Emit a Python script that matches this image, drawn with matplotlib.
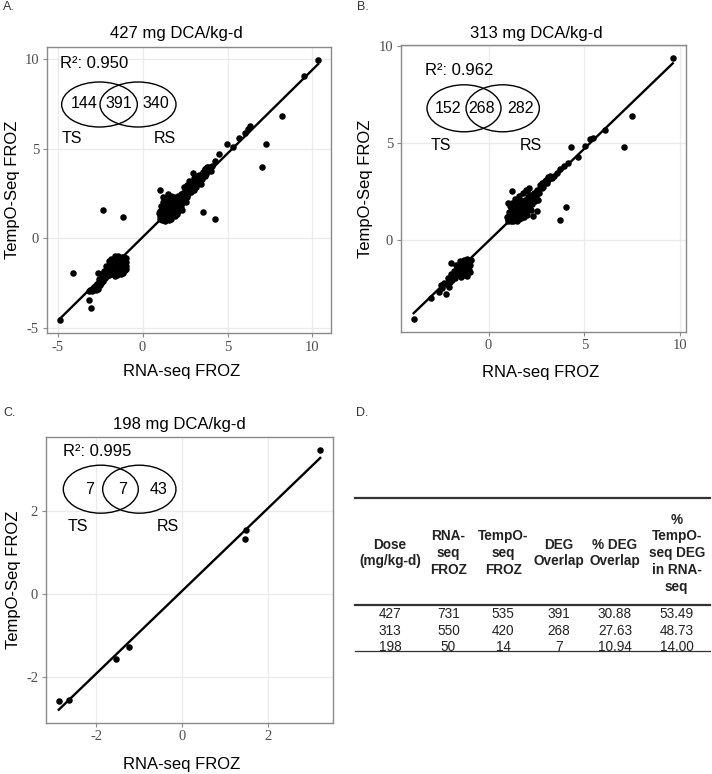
import matplotlib
matplotlib.use('Agg')
import matplotlib.pyplot as plt
from matplotlib.patches import Ellipse
from matplotlib.lines import Line2D
import numpy as np

plt.rcParams['font.family'] = ['Liberation Sans', 'DejaVu Sans']
plt.rcParams['axes.unicode_minus'] = False

# ---- data ----
# panel A: 427 mg DCA/kg-d
a_x = [1.05, 1.10, 1.15, 1.20, 1.25, 1.30, 1.35, 1.40, 1.45, 1.50, 1.55, 1.60, 1.65, 1.70, 1.75,
       1.80, 1.85, 1.90, 1.95, 2.00, 2.05, 2.10, 2.15, 2.20, 2.25, 2.30, 2.35, 2.40, 2.45, 2.50,
       1.10, 1.20, 1.35, 1.50, 1.70, 1.25, 1.45, 1.60, 1.85, 1.10, 2.00, 2.35, 1.75, 1.55, 1.30,
       2.60, 2.65, 2.70, 2.80, 2.85, 2.90, 2.95, 3.00, 3.05, 3.10, 3.20, 3.25, 3.30, 3.40, 3.50,
       3.55, 3.60, 3.70, 3.75, 3.85, 3.95, 4.10, 4.25, 4.47, 2.95, 2.60, 3.30, 3.80, 2.75, 2.45,
       1.01, 1.21, 0.95, 2.55, 3.00, 3.45, 4.00, 3.15, 3.90, 3.65,
       1.15, 1.35, 1.55, 1.75, 1.95, 2.15, 1.40, 1.60, 1.80, 2.00, 2.20, 2.40, 1.20, 1.45, 1.65,
       1.85, 2.05, 2.25, 1.30, 1.50, 1.70, 1.90, 2.10, 2.30, 1.05, 1.25, 1.45, 1.65, 1.90, 2.10,
       2.50, 2.70, 2.55, 2.90, 3.10, 3.35, 3.50, 3.65, 1.00, 1.35,
       3.55, 4.28, -2.30, -1.15,
       4.96, 5.35, 5.68, 6.00, 6.23, 6.33, 7.25, 7.01, 8.18, 9.51, 10.33,
       -1.00, -1.05, -1.10, -1.15, -1.20, -1.25, -1.30, -1.35, -1.40, -1.45, -1.50, -1.55, -1.60,
       -1.65, -1.70, -1.75, -1.80, -1.85, -1.90, -1.95, -2.00, -2.05, -2.10, -2.15, -2.20, -2.25,
       -2.30, -2.35, -2.40, -2.45, -2.55, -2.60, -2.70, -2.75, -2.85, -2.95, -3.10, -1.05, -1.15,
       -1.25, -1.50, -1.40, -1.60, -1.00, -1.10, -1.65, -1.95, -2.65, -2.27, -2.46, -2.65, -3.14,
       -1.00, -1.10, -1.20, -1.30, -1.40, -1.50, -1.60, -1.70, -1.80, -1.20, -1.35, -1.55, -1.75,
       -1.95, -2.10, -1.25, -1.45, -1.05, -1.15, -1.65, -1.85, -2.30, -2.50, -1.30, -1.00,
       -4.12, -3.14, -3.05, -4.88]
a_y = [1.10, 1.35, 1.20, 1.55, 1.05, 1.40, 1.75, 1.15, 1.60, 1.30, 1.90, 1.45, 1.10, 1.70, 2.05,
       1.50, 1.85, 1.25, 2.20, 1.65, 1.95, 2.35, 1.80, 2.10, 2.45, 1.95, 2.25, 2.55, 2.15, 2.40,
       1.80, 2.00, 2.20, 2.45, 2.35, 1.65, 1.95, 2.10, 2.30, 1.55, 1.35, 1.60, 1.25, 1.05, 1.00,
       2.30, 2.70, 2.50, 2.90, 2.60, 3.10, 2.80, 3.35, 3.00, 3.25, 3.05, 3.45, 3.20, 3.50, 3.30,
       3.70, 3.55, 3.85, 3.60, 3.75, 3.90, 4.05, 4.30, 4.67, 3.65, 3.00, 3.55, 3.95, 3.20, 2.85,
       2.67, 2.30, 1.40, 2.05, 2.70, 3.05, 3.75, 2.85, 4.00, 3.85,
       1.00, 1.50, 1.65, 1.80, 2.00, 2.20, 1.30, 1.55, 1.70, 1.85, 2.00, 2.20, 1.30, 1.45, 1.35,
       1.55, 1.70, 1.75, 1.60, 1.75, 1.95, 2.10, 2.15, 2.35, 1.50, 1.80, 2.15, 2.25, 1.45, 1.55,
       2.65, 2.75, 2.45, 2.95, 3.10, 3.35, 3.60, 3.45, 1.25, 0.95,
       1.48, 1.06, 1.61, 1.18,
       5.28, 5.10, 5.56, 5.85, 6.06, 6.28, 5.28, 3.96, 6.83, 9.06, 9.94,
       -1.10, -1.40, -1.25, -1.60, -1.05, -1.45, -1.80, -1.20, -1.55, -1.00, -1.35, -1.75, -1.20,
       -1.50, -1.95, -1.35, -1.65, -1.15, -1.80, -1.50, -2.05, -1.70, -1.90, -1.55, -2.20, -1.85,
       -2.10, -2.35, -2.00, -2.50, -2.25, -2.70, -2.55, -2.85, -2.70, -2.90, -2.85, -1.75, -1.90,
       -2.00, -2.05, -1.85, -2.10, -1.55, -1.05, -1.00, -1.25, -1.91, -1.81, -2.46, -2.83, -2.93,
       -1.30, -1.45, -1.30, -1.55, -1.35, -1.60, -1.45, -1.70, -1.85, -1.70, -1.65, -1.90, -1.55,
       -1.90, -2.10, -1.20, -1.20, -1.15, -1.35, -1.80, -2.00, -2.30, -2.60, -1.10, -1.70,
       -1.94, -3.43, -3.85, -4.55]

# panel B: 313 mg DCA/kg-d
b_x = [1.00, 1.05, 1.10, 1.15, 1.20, 1.25, 1.30, 1.35, 1.40, 1.45, 1.50, 1.55, 1.60, 1.65, 1.70,
       1.75, 1.80, 1.85, 1.90, 1.95, 2.00, 2.05, 2.10, 2.15, 2.20, 2.25, 2.30, 2.35, 2.40, 1.10,
       1.25, 1.40, 1.60, 1.80, 1.30, 1.70, 2.00, 2.20, 1.95, 2.50, 2.55, 2.65, 2.70, 2.78, 2.85,
       2.95, 3.05, 3.10, 3.21, 3.30, 3.40, 3.55, 3.75, 3.95, 4.15, 2.03, 1.22, 1.04, 0.96, 2.52,
       1.50, 2.30, 2.10, 2.60,
       1.15, 1.35, 1.55, 1.75, 1.95, 2.15, 1.40, 1.60, 1.80, 2.00, 2.20, 1.20, 1.45, 1.65, 1.85,
       2.05, 1.30, 1.50, 1.70, 1.90, 2.10, 2.30, 1.05, 1.25, 1.45, 1.65, 2.45, 2.60, 2.80, 3.00,
       1.00, 1.20,
       4.05, 3.73,
       4.29, 4.64, 5.04, 5.30, 5.42, 6.08, 7.07, 7.50, 9.60,
       -0.90, -0.95, -1.00, -1.05, -1.10, -1.15, -1.20, -1.25, -1.30, -1.35, -1.40, -1.45, -1.50,
       -1.55, -1.60, -1.65, -1.70, -1.75, -1.80, -1.85, -1.90, -1.95, -2.00, -2.10, -2.20, -2.34,
       -2.40, -2.22, -2.60, -3.00, -1.94, -1.13, -1.00, -1.20, -1.45, -0.95, -1.70, -1.30, -2.05,
       -2.50,
       -1.00, -1.10, -1.20, -1.30, -1.40, -1.50, -1.60, -1.70, -1.80, -1.15, -1.35, -1.55, -1.25,
       -1.45, -1.05, -1.65, -1.90, -2.00, -1.10, -1.40,
       -3.90]
b_y = [1.10, 1.30, 1.20, 1.50, 1.05, 1.40, 1.70, 1.15, 1.55, 1.30, 1.85, 1.45, 1.10, 1.65, 2.00,
       1.40, 1.80, 1.20, 2.10, 1.60, 1.90, 2.25, 1.70, 2.00, 2.35, 1.85, 2.15, 2.45, 2.05, 1.75,
       1.95, 2.15, 2.30, 2.45, 1.00, 1.15, 1.30, 1.55, 2.60, 2.30, 2.60, 2.45, 2.85, 2.94, 2.75,
       3.05, 2.95, 3.25, 3.32, 3.20, 3.30, 3.45, 3.65, 3.85, 4.00, 2.56, 2.56, 1.92, 1.23, 1.54,
       1.00, 1.25, 2.70, 2.10,
       1.00, 1.45, 1.60, 1.75, 1.95, 2.15, 1.25, 1.45, 1.60, 1.75, 1.90, 1.30, 1.40, 1.25, 1.45,
       1.55, 1.55, 1.70, 1.85, 2.00, 2.05, 2.30, 1.45, 1.70, 2.00, 2.10, 2.40, 2.55, 2.70, 3.10,
       1.00, 1.20,
       1.74, 1.06,
       4.82, 4.31, 4.87, 5.20, 5.25, 5.68, 4.82, 6.41, 9.38,
       -1.00, -1.25, -1.10, -1.40, -0.95, -1.30, -1.55, -1.10, -1.45, -1.20, -1.65, -1.35, -1.05,
       -1.55, -1.80, -1.40, -1.65, -1.95, -1.55, -1.85, -2.05, -1.70, -2.15, -1.95, -2.25, -2.19,
       -2.45, -2.75, -2.65, -2.95, -1.16, -1.85, -1.50, -1.75, -1.90, -1.60, -1.25, -1.00, -2.40,
       -2.30,
       -1.30, -1.20, -1.35, -1.25, -1.40, -1.50, -1.55, -1.75, -1.80, -1.50, -1.55, -1.75, -1.15,
       -1.15, -1.15, -1.60, -1.90, -1.95, -1.65, -1.20,
       -4.02]

# panel C: 198 mg DCA/kg-d
c_x = [-2.87, -2.64, -1.53, -1.23, 1.49, 1.47, 3.23]
c_y = [-2.58, -2.54, -1.55, -1.26, 1.55, 1.34, 3.49]

titles = ['427 mg DCA/kg-d', '313 mg DCA/kg-d', '198 mg DCA/kg-d']
r2_labels = ['0.950', '0.962', '0.995']
venn_counts = [[144, 391, 340], [152, 268, 282], [7, 7, 43]]
xticks = [[-5, 0, 5, 10], [0, 5, 10], [-2, 0, 2]]
yticks = [[-5, 0, 5, 10], [0, 5, 10], [-2, 0, 2]]

# panel D table
col_headers = ['Dose\n(mg/kg-d)', 'RNA-\nseq\nFROZ', 'TempO-\nseq\nFROZ', 'DEG\nOverlap',
               '% DEG\nOverlap', '%\nTempO-\nseq DEG\nin RNA-\nseq']
dose = ['427', '313', '198']
rna_froz = ['731', '550', '50']
tempo_froz = ['535', '420', '14']
deg_overlap = ['391', '268', '7']
pct_overlap = ['30.88', '27.63', '10.94']
pct_tempo = ['53.49', '48.73', '14.00']

# ---- layout (pixels of the 712x774 figure) ----
W, H = 712, 774
fig = plt.figure(figsize=(W / 100, H / 100), dpi=100)


def fx(x):
    return x / W


def fy(y):
    return 1 - y / H


def add_panel(box):
    l, t, r, b = box
    return fig.add_axes([fx(l), fy(b), (r - l) / W, (b - t) / H])


boxes = [(46.7, 46.7, 331, 333.3), (400.7, 45, 685.7, 331.7), (45.7, 436.7, 333.3, 722.7)]
# ylabel x is its right edge, xlabel y is its top edge (axes fraction)
ylab_x = [-0.094, -0.097, -0.085]
xlab_pos = [(0.473, -0.106), (0.49, -0.117), (0.473, -0.12)]
title_pos = [(176.7, 33.3), (536.7, 33.3), (179, 424)]

venn_geo = [
    dict(l=(99.5, 75.7), r=(138, 76), cy=104.5, h=45, nx=(84, 118.3, 156), ny=103.3,
         ts=71.7, rs=165, ly=138.3, r2=(60, 63.3)),
    dict(l=(464, 74), r=(502.7, 73.3), cy=108.3, h=47, nx=(448.3, 481.7, 520), ny=108.3,
         ts=441, rs=530.7, ly=146, r2=(425, 70.7)),
    dict(l=(100.8, 75), r=(139.3, 73.3), cy=489.2, h=48, nx=(90, 122.3, 159), ny=489.2,
         ts=77.7, rs=167.7, ly=526.7, r2=(62.7, 451.7)),
]

data = [(a_x, a_y), (b_x, b_y), (c_x, c_y)]
grey_txt = '#4d4d4d'

for i, (xs, ys) in enumerate(data):
    ax = add_panel(boxes[i])
    xs = np.array(xs)
    ys = np.array(ys)
    slope, icpt = np.polyfit(xs, ys, 1)
    lx = np.array([xs.min(), xs.max()])
    ly = slope * lx + icpt

    ax.scatter(xs, ys, s=22, color='black', linewidths=0, zorder=3)
    ax.plot(lx, ly, color='black', lw=1.7, zorder=4)

    xr = xs.max() - xs.min()
    ymin = min(ys.min(), ly.min())
    ymax = max(ys.max(), ly.max())
    yr = ymax - ymin
    ax.set_xlim(xs.min() - 0.05 * xr, xs.max() + 0.05 * xr)
    ax.set_ylim(ymin - 0.05 * yr, ymax + 0.05 * yr)

    ax.set_xticks(xticks[i])
    ax.set_yticks(yticks[i])
    ax.grid(color='#ebebeb', lw=0.9, zorder=0)
    ax.set_axisbelow(True)
    for sp in ax.spines.values():
        sp.set_color('#8a8a8a')
        sp.set_linewidth(1.0)
    ax.tick_params(length=3, width=0.8, color='#8a8a8a', pad=2.5, labelsize=10.5,
                   labelcolor=grey_txt)
    for lab in ax.get_xticklabels() + ax.get_yticklabels():
        lab.set_family('Liberation Serif')

    ax.set_xlabel('RNA-seq FROZ', fontsize=12)
    ax.set_ylabel('TempO-Seq FROZ', fontsize=12)
    ax.xaxis.set_label_coords(*xlab_pos[i])
    ax.yaxis.set_label_coords(ylab_x[i], 0.5)

    tx, ty = title_pos[i]
    fig.text(fx(tx), fy(ty), titles[i], fontsize=12, ha='center', va='center')

    g = venn_geo[i]
    for cx, w in (g['l'], g['r']):
        fig.add_artist(Ellipse((fx(cx), fy(g['cy'])), w / W, g['h'] / H,
                               transform=fig.transFigure, fill=False, ec='black', lw=1.0))
    for nx, cnt in zip(g['nx'], venn_counts[i]):
        fig.text(fx(nx), fy(g['ny']), str(cnt), fontsize=11.5, ha='center', va='center')
    fig.text(fx(g['ts']), fy(g['ly']), 'TS', fontsize=11.5, ha='center', va='center')
    fig.text(fx(g['rs']), fy(g['ly']), 'RS', fontsize=11.5, ha='center', va='center')
    fig.text(fx(g['r2'][0]), fy(g['r2'][1]), 'R²: ' + r2_labels[i], fontsize=12,
             ha='left', va='center')

# panel letters
for lab, (px, py) in zip(['A.', 'B.', 'C.', 'D.'],
                         [(3, 7), (357, 7), (3, 413), (356, 413)]):
    fig.text(fx(px), fy(py), lab, fontsize=9, ha='left', va='center', color='#333333')

# ---- panel D: table ----
col_x = [390, 448.3, 503.3, 559, 615, 676.7]
row_y = [614, 631, 646.7]
for y, lw in [(498.3, 1.6), (605, 1.6), (651, 0.9)]:
    fig.add_artist(Line2D([fx(355), fx(710)], [fy(y), fy(y)], transform=fig.transFigure,
                          color='#333333', lw=lw))
for cx, hd in zip(col_x, col_headers):
    fig.text(fx(cx), fy(553), hd, fontsize=9.8, fontweight='bold', ha='center', va='center',
             linespacing=1.25, color='#222222')
columns = [dose, rna_froz, tempo_froz, deg_overlap, pct_overlap, pct_tempo]
for cx, col in zip(col_x, columns):
    for ry, val in zip(row_y, col):
        fig.text(fx(cx), fy(ry), val, fontsize=9.8, ha='center', va='center', color='#222222')

fig.savefig('out.png', dpi=100)
